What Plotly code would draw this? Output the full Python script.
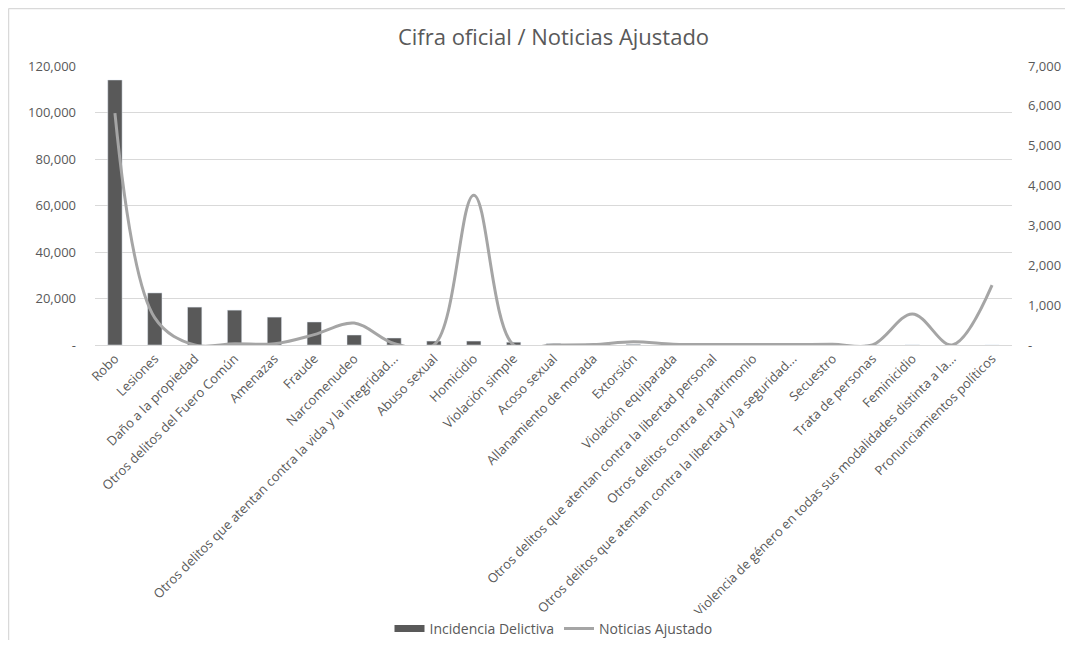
import plotly.graph_objects as go

categories = [
    "Robo", "Lesiones", "Daño a la propiedad", "Otros delitos del Fuero Común",
    "Amenazas", "Fraude", "Narcomenudeo",
    "Otros delitos que atentan contra la vida y la integridad...",
    "Abuso sexual", "Homicidio", "Violación simple", "Acoso sexual",
    "Allanamiento de morada", "Extorsión", "Violación equiparada",
    "Otros delitos que atentan contra la libertad personal",
    "Otros delitos contra el patrimonio",
    "Otros delitos que atentan contra la libertad y la seguridad...",
    "Secuestro", "Trata de personas", "Feminicidio",
    "Violencia de género en todas sus modalidades distinta a la...",
    "Pronunciamientos políticos",
]
incidencia = [114000, 22400, 16300, 15000, 12000, 9900, 4300, 3000,
              1700, 1700, 1200, 600, 500, 300, 200, 150, 120, 100,
              60, 40, 30, 20, 10]
noticias = [5820, 680, 0, 30, 30, 260, 550, 40,
            0, 3760, 0, 0, 10, 80, 20, 10, 15, 10,
            20, 0, 780, 0, 1500]

left_ticks = [0, 20000, 40000, 60000, 80000, 100000, 120000]
left_text = ["-", "20,000", "40,000", "60,000", "80,000", "100,000", "120,000"]
right_ticks = [0, 1000, 2000, 3000, 4000, 5000, 6000, 7000]
right_text = ["-", "1,000", "2,000", "3,000", "4,000", "5,000", "6,000", "7,000"]

BAR_COLOR = "#595959"
LINE_COLOR = "#A5A5A5"
TEXT_COLOR = "#595959"

fig = go.Figure()
fig.add_trace(go.Bar(
    x=categories, y=incidencia, name="Incidencia Delictiva",
    marker_color=BAR_COLOR, yaxis="y", showlegend=False,
))
# legend-only entry (wide bar swatch like the original legend)
fig.add_trace(go.Scatter(
    x=[None], y=[None], name="Incidencia Delictiva", mode="lines",
    line=dict(color=BAR_COLOR, width=7), yaxis="y",
))
fig.add_trace(go.Scatter(
    x=categories, y=noticias, name="Noticias Ajustado",
    mode="lines", line=dict(color=LINE_COLOR, width=3, shape="spline", smoothing=1.0),
    yaxis="y2",
))

# the page body adds an 8px margin on every side
OFF = 8
W, H = 1073 - 2 * OFF, 648 - 2 * OFF
ml = 95 - OFF
mt = 66 - OFF
plot_right = 1012 - OFF
plot_bottom = 345 - OFF
mr = W - plot_right
mb = H - plot_bottom
pw = W - ml - mr
ph = H - mt - mb


def px(x_page):
    return (x_page - OFF - ml) / pw


def py(y_page):
    return (plot_bottom - (y_page - OFF)) / ph


font = "Open Sans, Segoe UI, sans-serif"
fig.update_layout(
    width=W, height=H, autosize=False,
    margin=dict(l=ml, r=mr, t=mt, b=mb, autoexpand=False),
    paper_bgcolor="white", plot_bgcolor="white",
    title=dict(text="Cifra oficial / Noticias Ajustado", x=0.5, xanchor="center",
               xref="paper", y=1 - (37 - OFF) / H, yanchor="middle",
               font=dict(family=font, size=22, color=TEXT_COLOR)),
    font=dict(family=font, size=13, color=TEXT_COLOR),
    bargap=0.64,
    showlegend=True,
    legend=dict(orientation="h", x=0.5, xanchor="center",
                yref="container", y=1 - (629 - OFF) / H, yanchor="middle",
                font=dict(family=font, size=14, color=TEXT_COLOR),
                traceorder="normal"),
    xaxis=dict(tickangle=-45, tickfont=dict(family=font, size=13, color=TEXT_COLOR),
               showgrid=False, showline=True, linecolor="#D9D9D9", ticks="",
               automargin=False),
    yaxis=dict(range=[0, 120000], tickvals=left_ticks, ticktext=left_text,
               showgrid=True, gridcolor="#D9D9D9", zeroline=False, ticks="",
               ticklabelstandoff=18, automargin=False,
               tickfont=dict(family=font, size=13, color=TEXT_COLOR)),
    yaxis2=dict(range=[0, 7000], tickvals=right_ticks, ticktext=right_text,
                overlaying="y", side="right", showgrid=False, zeroline=False,
                ticks="", ticklabelstandoff=15, automargin=False,
                tickfont=dict(family=font, size=13, color=TEXT_COLOR)),
    shapes=[
        dict(type="line", xref="paper", yref="paper", x0=px(8.5), x1=px(8.5),
             y0=py(8.5), y1=py(648), line=dict(color="#D9D9D9", width=1.5)),
        dict(type="line", xref="paper", yref="paper", x0=px(8.5), x1=px(1073),
             y0=py(8.5), y1=py(8.5), line=dict(color="#D9D9D9", width=1.5)),
    ],
)

fig.write_html("out.html")
